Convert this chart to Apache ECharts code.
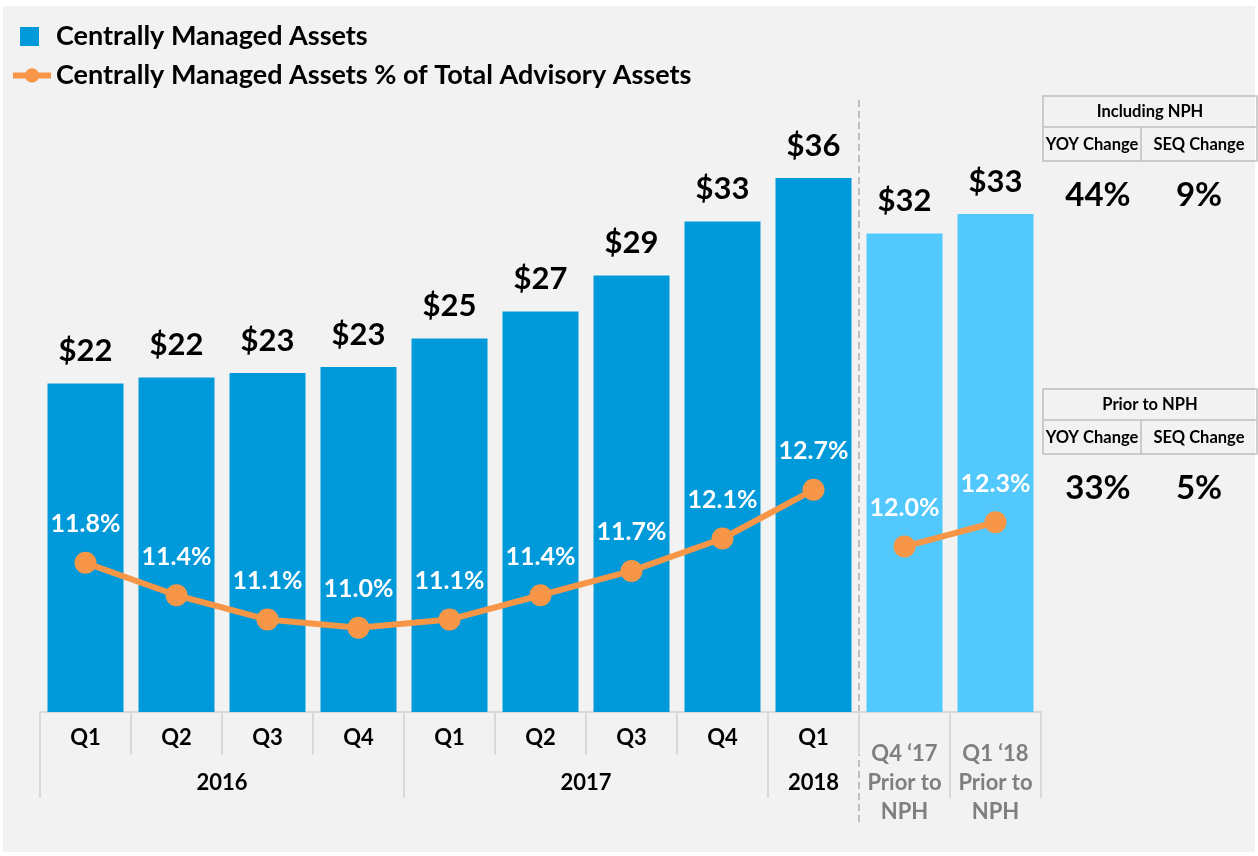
<!DOCTYPE html>
<html>
<head>
<meta charset="utf-8">
<script src="https://cdn.jsdelivr.net/npm/echarts@6/dist/echarts.min.js"></script>
<style>
    html, body { margin: 0; padding: 0; background: #fff; }
    #chart { width: 1258px; height: 856px; }
</style>
</head>
<body>
<div id="chart"></div>
<script>
// data
var categories = ['Q1', 'Q2', 'Q3', 'Q4', 'Q1', 'Q2', 'Q3', 'Q4', 'Q1', 'Q4 ‘17\nPrior to\nNPH', 'Q1 ‘18\nPrior to\nNPH']
var assets = [21.9, 22.3, 22.6, 23.0, 24.9, 26.7, 29.1, 32.7, 35.6, 31.9, 33.2]
var pctReported = [11.8, 11.4, 11.1, 11.0, 11.1, 11.4, 11.7, 12.1, 12.7, '-', '-']
var pctPrior = ['-', '-', '-', '-', '-', '-', '-', '-', '-', 12.0, 12.3]
var priorIdx = [9, 10]
var years = ['2016', '2017', '2018']
var yearStart = [0, 4, 8]
var yearEnd = [3, 7, 8]
var tableTitles = ['Including NPH', 'Prior to NPH']
var yoyChange = ['44%', '33%']
var seqChange = ['9%', '5%']

var FONT = 'Lato'
var DARK = '#0099da'
var LIGHT = '#52c8fd'
var ORANGE = '#f79646'
var GRID_LINE = '#d9d9d9'
var barName = 'Centrally Managed Assets'
var lineName = 'Centrally Managed Assets % of Total Advisory Assets'

var myChart = echarts.init(document.getElementById('chart'))

let xData = categories.map((c, i) => {
    if (priorIdx.indexOf(i) > -1) {
        return { value: c, textStyle: { color: '#7f7f7f', lineHeight: 29, padding: [12, 0, 0, 0] } }
    }
    return c
})

let barData = assets.map((v, i) => {
    if (priorIdx.indexOf(i) > -1) {
        return { value: v, itemStyle: { color: LIGHT } }
    }
    return v
})

let lineLabel = {
    show: true,
    position: 'top',
    distance: 15,
    color: '#fff',
    fontFamily: FONT,
    fontWeight: 'bold',
    fontSize: 25,
    formatter: p => p.value.toFixed(1) + '%'
}

let option = {
    backgroundColor: '#f2f2f2',
    animation: false,
    legend: [
        {
            data: [{ name: barName, icon: 'rect' }],
            left: 20,
            top: 23,
            padding: 0,
            itemWidth: 19,
            itemHeight: 19,
            textStyle: { fontFamily: FONT, fontWeight: 'bold', fontSize: 27, color: '#000', padding: [0, 0, 0, 12] }
        },
        {
            data: [lineName],
            left: 10,
            top: 62,
            padding: 0,
            itemWidth: 38,
            itemHeight: 18,
            lineStyle: { width: 6, color: ORANGE },
            textStyle: { fontFamily: FONT, fontWeight: 'bold', fontSize: 27, color: '#000', padding: [0, 0, 0, 0] }
        }
    ],
    grid: { left: 40, right: 217, top: 112, bottom: 144, containLabel: false },
    xAxis: [
        {
            type: 'category',
            data: xData,
            axisLine: { show: true, lineStyle: { color: GRID_LINE, width: 2 } },
            axisTick: { show: true, interval: 0, length: 43, lineStyle: { color: GRID_LINE, width: 2 } },
            axisLabel: {
                interval: 0,
                margin: 15,
                fontFamily: FONT,
                fontWeight: 'bold',
                fontSize: 22,
                color: '#000'
            }
        },
        {
            type: 'category',
            position: 'bottom',
            data: categories,
            axisLine: { show: false },
            axisLabel: { show: false },
            axisTick: {
                show: true,
                length: 86,
                interval: i => yearStart.indexOf(i) > -1 || i === priorIdx[1],
                lineStyle: { color: GRID_LINE, width: 2 }
            }
        }
    ],
    yAxis: [
        { type: 'value', min: 0, max: 40, show: false },
        { type: 'value', min: 9.96, max: 17.36, show: false }
    ],
    series: [
        {
            name: barName,
            type: 'bar',
            barWidth: 76,
            itemStyle: { color: DARK },
            label: {
                show: true,
                position: 'top',
                distance: 17,
                color: '#000',
                fontFamily: FONT,
                fontWeight: 'bold',
                fontSize: 31,
                formatter: p => '$' + Math.round(p.value)
            },
            data: barData
        },
        {
            name: lineName,
            type: 'line',
            yAxisIndex: 1,
            symbol: 'circle',
            symbolSize: 22,
            itemStyle: { color: ORANGE },
            lineStyle: { color: ORANGE, width: 6 },
            label: lineLabel,
            data: pctReported
        },
        {
            name: lineName,
            type: 'line',
            yAxisIndex: 1,
            symbol: 'circle',
            symbolSize: 22,
            itemStyle: { color: ORANGE },
            lineStyle: { color: ORANGE, width: 6 },
            label: lineLabel,
            data: pctPrior
        }
    ]
}
myChart.setOption(option)

// decorations placed from the axis scale
let c0 = myChart.convertToPixel({ xAxisIndex: 0 }, 0)
let c1 = myChart.convertToPixel({ xAxisIndex: 0 }, 1)
let bw = c1 - c0
let baseY = myChart.convertToPixel({ yAxisIndex: 0 }, 0)
let graphics = []

// white frame
graphics.push({ type: 'rect', shape: { x: 0, y: 0, width: 1258, height: 6 }, style: { fill: '#fff' } })
graphics.push({ type: 'rect', shape: { x: 0, y: 0, width: 3, height: 856 }, style: { fill: '#fff' } })
graphics.push({ type: 'rect', shape: { x: 1255, y: 0, width: 3, height: 856 }, style: { fill: '#fff' } })
graphics.push({ type: 'rect', shape: { x: 0, y: 852, width: 1258, height: 4 }, style: { fill: '#fff' } })

// year labels
years.forEach((y, i) => {
    let x1 = myChart.convertToPixel({ xAxisIndex: 0 }, yearStart[i]) - bw / 2
    let x2 = myChart.convertToPixel({ xAxisIndex: 0 }, yearEnd[i]) + bw / 2
    graphics.push({
        type: 'text',
        x: (x1 + x2) / 2,
        y: baseY + 71,
        style: { text: y, fontFamily: FONT, fontWeight: 'bold', fontSize: 22, fill: '#000', align: 'center', verticalAlign: 'middle' }
    })
})

// dashed divider before the "prior to NPH" bars
let divX = myChart.convertToPixel({ xAxisIndex: 0 }, priorIdx[0]) - bw / 2
graphics.push({
    type: 'line',
    shape: { x1: divX, y1: 100, x2: divX, y2: 825 },
    style: { stroke: '#bfbfbf', lineWidth: 2, lineDash: [7, 4] }
})

// change tables
let tableTops = [96, 389]
let tx = 1043, tw = 214, colX = 1141
tableTitles.forEach((t, i) => {
    let ty = tableTops[i]
    graphics.push({ type: 'rect', shape: { x: tx, y: ty, width: tw, height: 65 }, style: { fill: 'none', stroke: '#bfbfbf', lineWidth: 1.5 } })
    graphics.push({ type: 'line', shape: { x1: tx, y1: ty + 31, x2: tx + tw, y2: ty + 31 }, style: { stroke: '#bfbfbf', lineWidth: 1.5 } })
    graphics.push({ type: 'line', shape: { x1: colX, y1: ty + 31, x2: colX, y2: ty + 65 }, style: { stroke: '#bfbfbf', lineWidth: 1.5 } })
    let txt = (s, x, y, size) => ({
        type: 'text', x: x, y: y,
        style: { text: s, fontFamily: FONT, fontWeight: 'bold', fontSize: size, fill: '#000', align: 'center', verticalAlign: 'middle' }
    })
    graphics.push(txt(t, tx + tw / 2, ty + 16, 16.5))
    graphics.push(txt('YOY Change', (tx + colX) / 2, ty + 49, 16.5))
    graphics.push(txt('SEQ Change', (colX + tx + tw) / 2, ty + 49, 16.5))
    graphics.push(txt(yoyChange[i], 1098, ty + 99, 33))
    graphics.push(txt(seqChange[i], 1199, ty + 99, 33))
})

myChart.setOption({ graphic: graphics })
</script>
</body>
</html>
